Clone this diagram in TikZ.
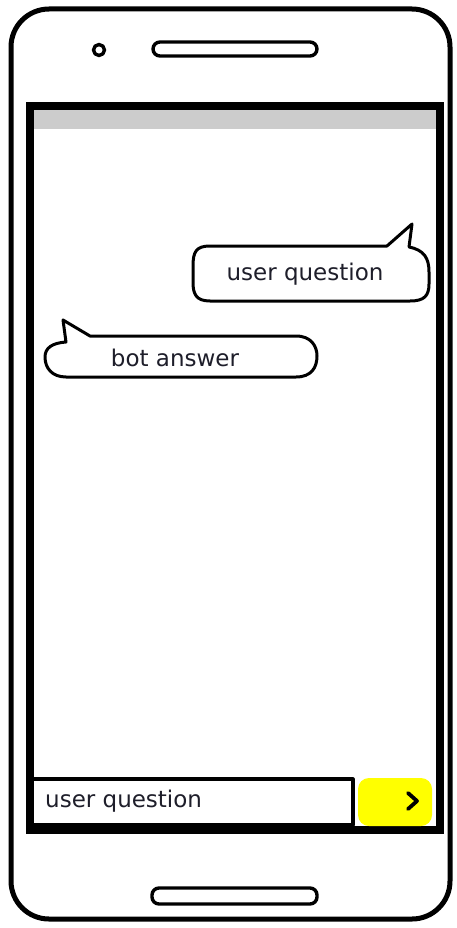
\documentclass[tikz,border=0pt]{standalone}
\usepackage{fontspec}
\setmainfont{DejaVu Sans}
\definecolor{inktext}{HTML}{1E1E2A}
\definecolor{barfill}{HTML}{CCCCCC}
\definecolor{sendyellow}{HTML}{FFFF00}
\tikzset{
  ink/.style={draw=black, line cap=round, line join=round},
  label/.style={font=\fontsize{23}{26}\selectfont, text=inktext, inner sep=0pt},
  bubble/.style={ink, line width=3pt, fill=white},
  slot/.style={ink, line width=3.4pt, fill=white},
}
\begin{document}
\begin{tikzpicture}[x=1pt, y=-1pt]
  \useasboundingbox (0,0) rectangle (456,928);
  % phone body
  \draw[ink, line width=5pt, rounded corners=38pt] (11,9) rectangle (450,919);
  % camera and earpiece
  \draw[slot] (99,50) circle (5.5);
  \draw[slot, rounded corners=7pt] (153,42) rectangle (317,56);
  % screen with status bar
  \fill[barfill] (33,110) rectangle (437,129);
  \draw[ink, line width=8pt, line cap=butt, line join=miter] (30,106) rectangle (440,830);
  % outgoing speech bubble
  \draw[bubble] (210,246) -- (387,246) -- (412,224) -- (409,247)
    .. controls (424,250) and (429,258) .. (429,272)
    -- (429,284) .. controls (429,296) and (424,301) .. (410,301)
    -- (210,301) .. controls (196,301) and (193,294) .. (193,282)
    -- (193,266) .. controls (193,252) and (196,246) .. (210,246) -- cycle;
  \node[label] (q) at (305,274) {user question};
  % incoming speech bubble
  \draw[bubble] (90,336) -- (296,336)
    .. controls (311,336) and (317,346) .. (317,356)
    .. controls (317,368) and (311,377) .. (296,377)
    -- (66,377) .. controls (52,377) and (45,368) .. (45,357)
    .. controls (45,348) and (52,343) .. (66,342)
    -- (63,320) -- cycle;
  \node[label] (a) at (175,358) {bot answer};
  % message input and send button
  \draw[ink, line width=3.2pt, fill=white] (32,779) rectangle (353,825);
  \node[label, anchor=west] (input) at (45,801) {user question};
  \fill[sendyellow, rounded corners=11pt] (358,778) rectangle (432,826);
  \node (send) at (412,801) {};
  \draw[ink, line width=3.8pt] (408,793) -- (417,801) -- (408,809);
  % home button slot
  \draw[slot, rounded corners=7pt] (152,888) rectangle (317,904);
\end{tikzpicture}
\end{document}
